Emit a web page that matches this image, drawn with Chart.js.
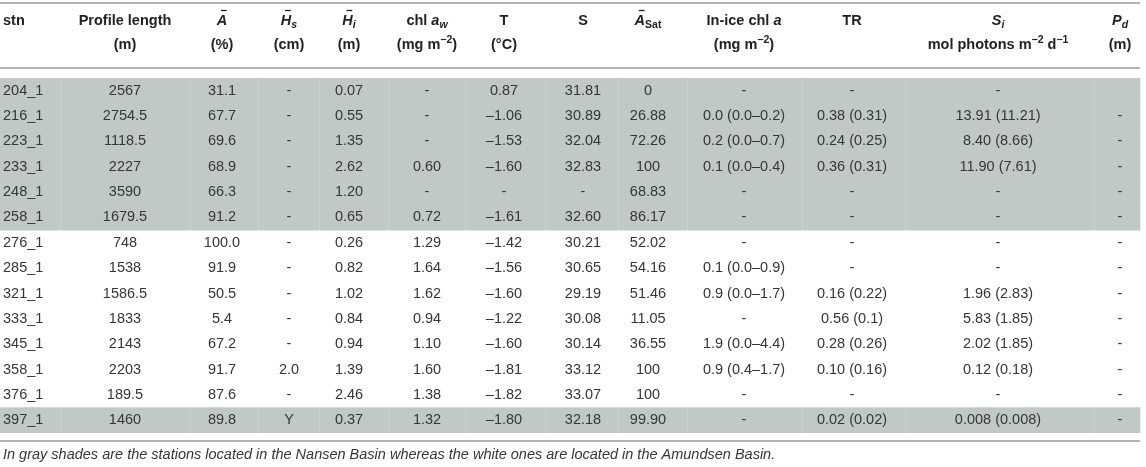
<!DOCTYPE html>
<html>
<head>
<meta charset="utf-8">
<script src="https://cdn.jsdelivr.net/npm/chart.js@4.4.0/dist/chart.umd.min.js"></script>
<style>
  html, body { margin: 0; padding: 0; background: #fff; }
  canvas { display: block; }
</style>
</head>
<body>
<canvas id="tableChart" width="1146" height="467"></canvas>
<script>
// table values, one array per column
const stations = ['204_1', '216_1', '223_1', '233_1', '248_1', '258_1', '276_1', '285_1', '321_1', '333_1', '345_1', '358_1', '376_1', '397_1'];
const basin = ['N', 'N', 'N', 'N', 'N', 'N', 'A', 'A', 'A', 'A', 'A', 'A', 'A', 'N'];
const profileLength = ['2567', '2754.5', '1118.5', '2227', '3590', '1679.5', '748', '1538', '1586.5', '1833', '2143', '2203', '189.5', '1460'];
const meanA = ['31.1', '67.7', '69.6', '68.9', '66.3', '91.2', '100.0', '91.9', '50.5', '5.4', '67.2', '91.7', '87.6', '89.8'];
const snowH = ['-', '-', '-', '-', '-', '-', '-', '-', '-', '-', '-', '2.0', '-', 'Y'];
const iceH = ['0.07', '0.55', '1.35', '2.62', '1.20', '0.65', '0.26', '0.82', '1.02', '0.84', '0.94', '1.39', '2.46', '0.37'];
const chlW = ['-', '-', '-', '0.60', '-', '0.72', '1.29', '1.64', '1.62', '0.94', '1.10', '1.60', '1.38', '1.32'];
const temp = ['0.87', '–1.06', '–1.53', '–1.60', '-', '–1.61', '–1.42', '–1.56', '–1.60', '–1.22', '–1.60', '–1.81', '–1.82', '–1.80'];
const sal = ['31.81', '30.89', '32.04', '32.83', '-', '32.60', '30.21', '30.65', '29.19', '30.08', '30.14', '33.12', '33.07', '32.18'];
const aSat = ['0', '26.88', '72.26', '100', '68.83', '86.17', '52.02', '54.16', '51.46', '11.05', '36.55', '100', '100', '99.90'];
const inIceChl = ['-', '0.0 (0.0–0.2)', '0.2 (0.0–0.7)', '0.1 (0.0–0.4)', '-', '-', '-', '0.1 (0.0–0.9)', '0.9 (0.0–1.7)', '-', '1.9 (0.0–4.4)', '0.9 (0.4–1.7)', '-', '-'];
const tr = ['-', '0.38 (0.31)', '0.24 (0.25)', '0.36 (0.31)', '-', '-', '-', '-', '0.16 (0.22)', '0.56 (0.1)', '0.28 (0.26)', '0.10 (0.16)', '-', '0.02 (0.02)'];
const si = ['-', '13.91 (11.21)', '8.40 (8.66)', '11.90 (7.61)', '-', '-', '-', '-', '1.96 (2.83)', '5.83 (1.85)', '2.02 (1.85)', '0.12 (0.18)', '-', '0.008 (0.008)'];
const pd = ['', '-', '-', '-', '-', '-', '-', '-', '-', '-', '-', '-', '-', '-'];
const caption = 'In gray shades are the stations located in the Nansen Basin whereas the white ones are located in the Amundsen Basin.';

// header cells: [first line, second line]
const headers = [
  [[{ t: 'stn' }], null],
  [[{ t: 'Profile length' }], [{ t: '(m)' }]],
  [[{ t: 'A', i: 1, bar: 1 }], [{ t: '(%)' }]],
  [[{ t: 'H', i: 1, bar: 1 }, { t: 's', i: 1, sub: 1 }], [{ t: '(cm)' }]],
  [[{ t: 'H', i: 1, bar: 1 }, { t: 'i', i: 1, sub: 1 }], [{ t: '(m)' }]],
  [[{ t: 'chl ' }, { t: 'a', i: 1 }, { t: 'w', i: 1, sub: 1 }], [{ t: '(mg m' }, { t: '−2', sup: 1 }, { t: ')' }]],
  [[{ t: 'T' }], [{ t: '(°C)' }]],
  [[{ t: 'S' }], null],
  [[{ t: 'A', i: 1, bar: 1 }, { t: 'Sat', sub: 1 }], null],
  [[{ t: 'In-ice chl ' }, { t: 'a', i: 1 }], [{ t: '(mg m' }, { t: '−2', sup: 1 }, { t: ')' }]],
  [[{ t: 'TR' }], null],
  [[{ t: 'S', i: 1 }, { t: 'i', i: 1, sub: 1 }], [{ t: 'mol photons m' }, { t: '−2', sup: 1 }, { t: ' d' }, { t: '−1', sup: 1 }]],
  [[{ t: 'P', i: 1 }, { t: 'd', i: 1, sub: 1 }], [{ t: '(m)' }]]
];

const columns = [stations, profileLength, meanA, snowH, iceH, chlW, temp, sal, aSat, inIceChl, tr, si, pd];

// layout (x in page pixels)
const colX = [3, 125, 222, 289, 349, 427, 504, 583, 648, 744, 852, 998, 1120];
const colSep = [60, 190, 258, 319, 388, 465, 545, 618, 687, 802, 905, 1094];
const tableRight = 1140;
const FONT = '"Liberation Sans", Arial, sans-serif';
const SIZE = 14.5;

function drawRich(ctx, segs, cx, cy, align) {
  const fontOf = s => (s.i ? 'italic ' : '') + 'bold ' + (s.sub || s.sup ? 10.5 : SIZE) + 'px ' + FONT;
  let w = 0;
  const widths = segs.map(s => { ctx.font = fontOf(s); const sw = ctx.measureText(s.t).width; w += sw; return sw; });
  let px = align === 'left' ? cx : cx - w / 2;
  ctx.textAlign = 'left';
  segs.forEach((s, k) => {
    ctx.font = fontOf(s);
    ctx.fillText(s.t, px, cy + (s.sub ? 4 : s.sup ? -5 : 0));
    if (s.bar) {
      ctx.beginPath();
      ctx.lineWidth = 1.3;
      ctx.moveTo(px + widths[k] * 0.4, cy - 10.5);
      ctx.lineTo(px + widths[k] * 0.95, cy - 10.5);
      ctx.stroke();
    }
    px += widths[k];
  });
}

const tablePlugin = {
  id: 'tableCells',
  afterDatasetsDraw(chart) {
    const { ctx, chartArea, scales: { x, y } } = chart;
    ctx.save();
    const band = y.getPixelForValue(1) - y.getPixelForValue(0);

    // light column dividers inside the gray rows
    ctx.strokeStyle = '#cbd2d0';
    ctx.lineWidth = 1;
    basin.forEach((b, r) => {
      if (b !== 'N') return;
      const yc = y.getPixelForValue(r);
      colSep.forEach(s => {
        const px = Math.round(x.getPixelForValue(s)) + 0.5;
        ctx.beginPath();
        ctx.moveTo(px, yc - band / 2);
        ctx.lineTo(px, yc + band / 2);
        ctx.stroke();
      });
    });

    // horizontal rules
    const right = x.getPixelForValue(tableRight);
    ctx.fillStyle = '#b4b4b4';
    ctx.fillRect(0, 2, right, 2);
    ctx.fillRect(0, chartArea.top - 11, right, 2);
    ctx.fillRect(0, chartArea.bottom + 7, right, 2);

    // body cells
    ctx.fillStyle = '#363636';
    ctx.font = SIZE + 'px ' + FONT;
    ctx.textBaseline = 'middle';
    columns.forEach((col, c) => {
      ctx.textAlign = c === 0 ? 'left' : 'center';
      const px = x.getPixelForValue(colX[c]);
      col.forEach((v, r) => ctx.fillText(v, px, y.getPixelForValue(r)));
    });

    // header
    ctx.fillStyle = '#222';
    ctx.strokeStyle = '#222';
    headers.forEach((h, c) => {
      const px = x.getPixelForValue(colX[c]);
      const align = c === 0 ? 'left' : 'center';
      drawRich(ctx, h[0], px, 21, align);
      if (h[1]) drawRich(ctx, h[1], px, 45, align);
    });

    // caption
    ctx.fillStyle = '#363636';
    ctx.font = 'italic ' + SIZE + 'px ' + FONT;
    ctx.textAlign = 'left';
    ctx.fillText(caption, 3, chartArea.bottom + 22);
    ctx.restore();
  }
};

new Chart(document.getElementById('tableChart').getContext('2d'), {
  type: 'bar',
  data: {
    labels: stations,
    datasets: [{
      data: basin.map(b => (b === 'N' ? [0, tableRight] : null)),
      backgroundColor: '#c1c9c7',
      barPercentage: 1,
      categoryPercentage: 1,
      borderWidth: 0
    }]
  },
  options: {
    indexAxis: 'y',
    responsive: false,
    animation: false,
    layout: { padding: { top: 78, bottom: 34, left: 0, right: 0 } },
    plugins: {
      legend: { display: false },
      tooltip: { enabled: false }
    },
    scales: {
      x: { type: 'linear', min: 0, max: 1146, display: false },
      y: { display: false }
    }
  },
  plugins: [tablePlugin]
});
</script>
</body>
</html>
